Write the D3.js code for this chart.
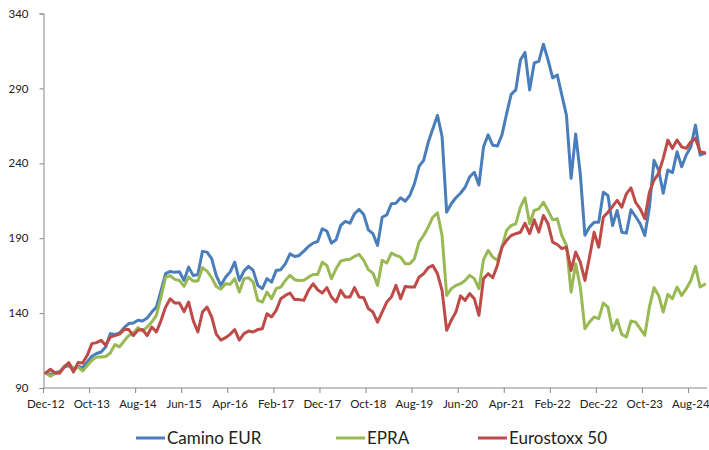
<!DOCTYPE html>
<html>
<head>
<meta charset="utf-8">
<script src="https://cdn.jsdelivr.net/npm/d3@7"></script>
<style>
  body { margin: 0; background: #fff; }
  text { font-family: Lato, "Open Sans", sans-serif; fill: #222; }
</style>
</head>
<body>
<div id="chart"></div>
<script>
// monthly index values, Dec-12 .. Nov-24 (144 months)
var camino = [100, 99, 100, 101, 104, 105, 102, 104.5, 103.6, 107.4,
  111.2, 113, 114, 117.4, 126.3, 125.8, 126.7, 130.3, 133, 133.4,
  135.2, 134.7, 136.7, 140.7, 144, 155, 166.3, 167.8, 167.2, 167.6,
  161.8, 170.7, 165, 165.8, 181.2, 180.7, 176.3, 165, 158.5, 164,
  167.4, 174, 161.8, 168, 171.2, 168.5, 158.5, 156.3, 163, 160.7,
  168.5, 169, 173, 179.6, 177.8, 178.5, 181.4, 184.5, 186.7, 187.8,
  196.3, 194.7, 186.7, 189, 198.5, 201.2, 200, 206.3, 209.2, 205.8,
  195.6, 193, 185.2, 204, 205.6, 213, 213.4, 217, 214.7, 218.5,
  226.3, 238, 242, 254, 263, 272, 258, 207.4, 213, 217,
  220, 224, 231, 234, 225.5, 251, 259, 252, 251.5, 259,
  273, 286, 289, 309, 314, 289, 307, 308, 319.5, 309,
  297, 299, 285.5, 272, 230, 259.5, 233, 192, 197.4, 200.7,
  200.7, 220.7, 218.5, 198.5, 208.5, 194, 193.4, 209, 204.5, 199.6,
  191.8, 210.7, 242, 235.5, 220, 235.5, 233.7, 247.7, 237.7, 245.5,
  251, 265.5, 245.5, 246.6];

var epra = [100, 97.8, 99.6, 100, 104.7, 106.3, 103, 104, 101.4, 105,
  108.5, 110.7, 110.7, 111, 113.4, 119, 117.4, 121.4, 125, 126.7,
  130.3, 128, 130.7, 134, 138.5, 150.7, 164, 165, 162.5, 161.8,
  157.8, 164, 161.4, 161.4, 170.3, 168, 163.6, 157.8, 156, 159.6,
  159.2, 163, 154, 163, 163.6, 160.7, 148.5, 147.4, 154, 149.6,
  156.3, 157.4, 161.8, 165.2, 162.3, 161.8, 162, 164, 165.8, 165.8,
  174, 171.8, 163, 169.6, 174.7, 175.6, 176, 177.8, 179.2, 175.2,
  169, 166.7, 158.5, 175.2, 173.4, 180, 178.5, 177.4, 173, 173,
  176.3, 187.4, 191.8, 197.4, 204, 207, 191.8, 151.8, 156.3, 158.5,
  159.6, 161.8, 165.2, 163, 156.3, 175.6, 181.8, 177.4, 175.2, 184,
  195.2, 198.5, 199.6, 210.7, 217, 199.6, 208.5, 209.6, 214, 208.5,
  202.3, 203, 191.8, 185.2, 154, 173, 157.4, 129.6, 134, 137.4,
  136.3, 146.7, 144, 128.5, 135.6, 125.8, 124, 134.7, 134, 129.6,
  125.2, 144, 157, 151.8, 140.7, 152.5, 149.6, 157.4, 151.8, 156.3,
  161.8, 171.2, 157.4, 159.2];

var eurostoxx = [100, 102.5, 100, 100, 104, 107, 100.7, 107, 106.7, 111.8,
  119.6, 120.3, 121.8, 118.5, 124, 125, 126, 129, 129, 125,
  128.5, 129, 125, 130.7, 127.4, 135, 144, 149.6, 146.7, 146.7,
  141, 147.4, 135, 127.4, 140.7, 144, 137.4, 126, 122, 123.6,
  125.8, 129, 122, 126.3, 128, 127.4, 129, 129.6, 139.6, 137.4,
  141.8, 149.6, 151.8, 153.4, 149, 149, 148.5, 155.2, 159.6, 155.6,
  153.4, 157, 150.7, 147.4, 155.2, 150.7, 150.7, 157, 150.7, 150.3,
  143, 140.7, 134, 140.7, 147.4, 150.7, 158.5, 149.6, 157.8, 157.4,
  157.4, 164, 166.3, 170.3, 171.8, 166.3, 155.2, 128.5, 135.2, 140.7,
  151.5, 148.5, 153, 149.6, 138.5, 163, 166.3, 163.6, 171.8, 184,
  188.5, 191.8, 193, 194, 200, 193, 202.3, 194, 205.2, 199.6,
  187.4, 185.8, 183, 184, 168.5, 180.7, 174, 161.8, 177.4, 194,
  184, 204, 207.4, 211.2, 215.2, 210.7, 219.6, 223.6, 214, 209.6,
  203, 220.7, 228.8, 233.3, 243.3, 255.5, 250, 255.5, 251, 250,
  254.4, 256.6, 247.7, 247];

// one label every 10 months
var tickLabels = ["Dec-12", "Oct-13", "Aug-14", "Jun-15", "Apr-16", "Feb-17", "Dec-17", "Oct-18",
  "Aug-19", "Jun-20", "Apr-21", "Feb-22", "Dec-22", "Oct-23", "Aug-24"];
var yTicks = [90, 140, 190, 240, 290, 340];

var seriesNames = ["Camino EUR", "EPRA", "Eurostoxx 50"];
var seriesColors = ["#4a7ebb", "#98b954", "#be4b48"];

var width = 709, height = 450;
var margin = {left: 43.5, right: 2, top: 13.5, bottom: 62};

var svg = d3.select("#chart")
    .append("svg")
    .attr("width", width)
    .attr("height", height);

var nMonths = camino.length;

var x = d3.scaleLinear()
    .domain([0, nMonths])
    .range([margin.left, width - margin.right]);

var y = d3.scaleLinear()
    .domain([90, 340])
    .range([height - margin.bottom, margin.top]);

// y axis
var yAxis = svg.append("g")
    .attr("transform", "translate(" + margin.left + ",0)")
    .call(d3.axisLeft(y).tickValues(yTicks).tickSize(4).tickPadding(11));
yAxis.select(".domain").attr("stroke", "#868686");
yAxis.selectAll(".tick line").attr("stroke", "#868686");
yAxis.selectAll("text").style("font-size", "11.5px").attr("fill", "#222");

// x axis: ticks on category boundaries, labels centred on the months
var xAxis = svg.append("g")
    .attr("transform", "translate(0," + y(90) + ")");
xAxis.append("line")
    .attr("x1", x(0)).attr("x2", x(nMonths))
    .attr("stroke", "#868686");
xAxis.selectAll(".xtick")
    .data(tickLabels)
    .enter().append("line")
    .attr("class", "xtick")
    .attr("x1", function (d, i) { return x(i * 10); })
    .attr("x2", function (d, i) { return x(i * 10); })
    .attr("y1", 0).attr("y2", 5)
    .attr("stroke", "#868686");
xAxis.selectAll(".xlabel")
    .data(tickLabels)
    .enter().append("text")
    .attr("class", "xlabel")
    .attr("x", function (d, i) { return x(i * 10 + 0.5); })
    .attr("y", 20)
    .attr("text-anchor", "middle")
    .style("font-size", "11.5px")
    .text(function (d) { return d; });

var line = d3.line()
    .x(function (d, i) { return x(i + 0.5); })
    .y(function (d) { return y(d); });

var allSeries = [camino, epra, eurostoxx];

svg.append("g")
    .selectAll("path")
    .data(allSeries)
    .enter().append("path")
    .attr("d", line)
    .attr("fill", "none")
    .attr("stroke", function (d, i) { return seriesColors[i]; })
    .attr("stroke-width", 3)
    .attr("stroke-linejoin", "round")
    .attr("stroke-linecap", "round");

// legend
var legendX = [136, 336, 478];
var legend = svg.append("g").attr("transform", "translate(0,438)");
var item = legend.selectAll("g")
    .data(seriesNames)
    .enter().append("g")
    .attr("transform", function (d, i) { return "translate(" + legendX[i] + ",0)"; });
item.append("line")
    .attr("x1", 0).attr("x2", 29)
    .attr("stroke", function (d, i) { return seriesColors[i]; })
    .attr("stroke-width", 3);
item.append("text")
    .attr("x", 31)
    .attr("dy", "0.36em")
    .style("font-size", "17px")
    .text(function (d) { return d; });
</script>
</body>
</html>
